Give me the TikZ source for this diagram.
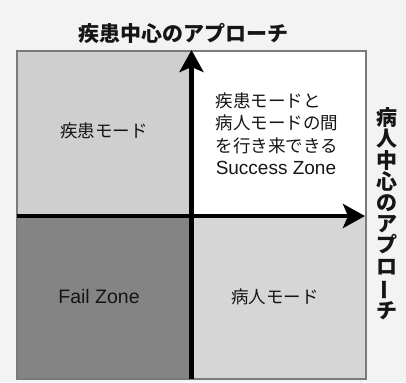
\documentclass[tikz,border=0pt]{standalone}
\usepackage{fontspec}
\usepackage{graphicx}
\usetikzlibrary{arrows.meta}
\newfontfamily\jpfont{Noto Sans CJK JP}
\newfontfamily\latinfont{Liberation Sans}
\definecolor{bgcol}{HTML}{F3F3F3}
\definecolor{qlight}{HTML}{CFCFCF}
\definecolor{qlighttwo}{HTML}{D6D6D6}
\definecolor{qdark}{HTML}{848484}
\definecolor{framecol}{HTML}{7A7A7A}
\definecolor{inkcol}{HTML}{151515}
\tikzset{
  axisline/.style={line width=4.5pt, draw=black, -{Stealth[length=22pt,width=24pt,inset=5pt]}},
  framebox/.style={draw=framecol, line width=1.4pt},
  jplabel/.style={inner sep=0pt, text=inkcol, font=\jpfont\fontsize{17.5}{22.5}\selectfont},
  latinlabel/.style={inner sep=0pt, text=inkcol, font=\latinfont\fontsize{19.5}{22.5}\selectfont},
  headline/.style={inner sep=0pt, text=inkcol, font=\jpfont\bfseries\fontsize{21}{21.2}\selectfont},
}
\begin{document}
\begin{tikzpicture}[x=1pt,y=-1pt]
\useasboundingbox (0,0) rectangle (406,382);
\fill[bgcol] (0,0) rectangle (406,382);
% quadrants
\fill[qlight] (17,51) rectangle (191.5,216);
\fill[white] (191.5,51) rectangle (366,216);
\fill[qdark] (17,216) rectangle (191.5,379);
\fill[qlighttwo] (191.5,216) rectangle (366,379);
\draw[framebox] (17,51) rectangle (366,379);
% axes
\coordinate (vb) at (191.5,379);
\coordinate (vt) at (191.5,50);
\coordinate (hl) at (17,216);
\coordinate (hr) at (365,216);
\draw[axisline] (vb) -- (vt);
\draw[axisline] (hl) -- (hr);
% titles
\node[headline] (title) at (183.5,33) {疾患中心のアプローチ};
\node[headline, align=center] (side) at (387,214) {病\\人\\中\\心\\の\\ア\\プ\\ロ\\\rotatebox[origin=c]{90}{ー}\\チ};
% quadrant labels
\node[jplabel] (dismode) at (104,131) {疾患モード};
\node[jplabel, align=left] (success) at (277,133.5) {疾患モードと\\病人モードの間\\を行き来できる\\{\latinfont\fontsize{19}{22.5}\selectfont Success Zone}};
\node[latinlabel] (fail) at (99,297) {Fail Zone};
\node[jplabel] (patmode) at (275,297) {病人モード};
\end{tikzpicture}
\end{document}
